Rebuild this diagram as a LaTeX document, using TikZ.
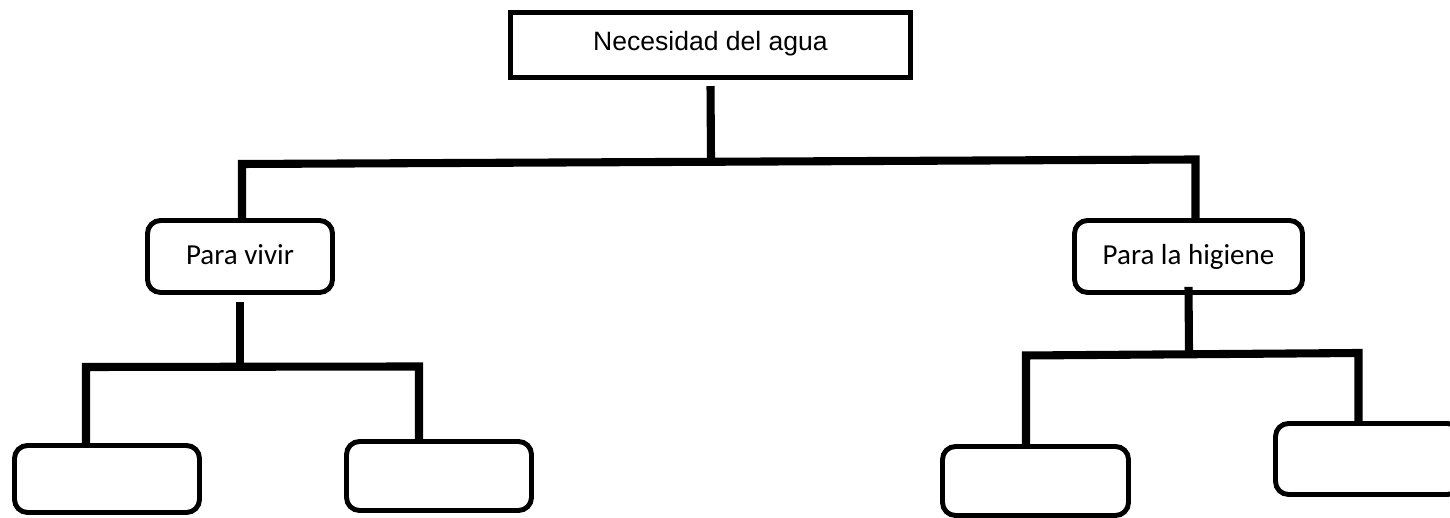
\documentclass[tikz,border=0pt]{standalone}
\usepackage{fontspec}
\setmainfont{Liberation Sans}
\newfontfamily\calibri{Carlito}
\usetikzlibrary{calc}

\tikzset{
  caja/.style={draw, line width=1.3pt, inner sep=0pt,
    minimum width=4.0cm, minimum height=0.655cm,
    text height=0.7em, text depth=0.4em,
    font=\fontsize{7.55}{9}\selectfont},
  burbuja/.style={draw, line width=1.4pt, rounded corners=0.13cm, inner sep=0pt,
    minimum height=0.69cm, text height=0.65em, text depth=0.2em,
    font=\calibri\fontsize{8.25}{10}\selectfont},
  linea/.style={line width=2.3pt, line join=miter},
}

\begin{document}
\begin{tikzpicture}
        \useasboundingbox (0,0) rectangle (14.5,-5.18);

        % caja principal
        \node[caja] (agua) at (7.105,-0.45) {Necesidad del agua};

        % segundo nivel
        \node[burbuja, minimum width=1.85cm, minimum height=0.72cm] (vivir) at (2.40,-2.565) {Para vivir};
        \node[burbuja, minimum width=2.28cm, minimum height=0.72cm] (higiene) at (11.885,-2.565) {Para la higiene};

        % cajas vacias
        \node[burbuja, minimum width=1.85cm, minimum height=0.67cm] (vivirA) at (1.07,-4.79) {};
        \node[burbuja, minimum width=1.85cm] (vivirB) at (4.39,-4.76) {};
        \node[burbuja, minimum width=1.86cm] (higieneA) at (10.355,-4.81) {};
        \node[burbuja, minimum width=1.85cm, minimum height=0.71cm] (higieneB) at (13.68,-4.59) {};

        % puntos de union
        \coordinate (t0) at (7.11,-1.60);
        \coordinate (t1) at (2.42,-1.64);
        \coordinate (t2) at (11.955,-1.595);
        \coordinate (v0) at (2.40,-3.64);
        \coordinate (v1) at (0.86,-3.67);
        \coordinate (v2) at (4.19,-3.665);
        \coordinate (h0) at (11.89,-3.52);
        \coordinate (h1) at (10.26,-3.555);
        \coordinate (h2) at (13.585,-3.53);

        % lineas de arriba
        \draw[linea] ([yshift=-0.06cm]agua.south) -- (t0);
        \draw[linea] (t1 |- vivir.north) -- (t1) -- (t2) -- (t2 |- higiene.north);

        % lineas de la izquierda
        \draw[linea] ([yshift=-0.075cm]vivir.south) -- (v0);
        \draw[linea] (v1 |- vivirA.north) -- (v1) -- (v2) -- (v2 |- vivirB.north);

        % lineas de la derecha
        \draw[linea] ([yshift=0.08cm]higiene.south) -- (h0);
        \draw[linea] (h1 |- higieneA.north) -- (h1) -- (h2) -- (h2 |- higieneB.north);
\end{tikzpicture}
\end{document}
